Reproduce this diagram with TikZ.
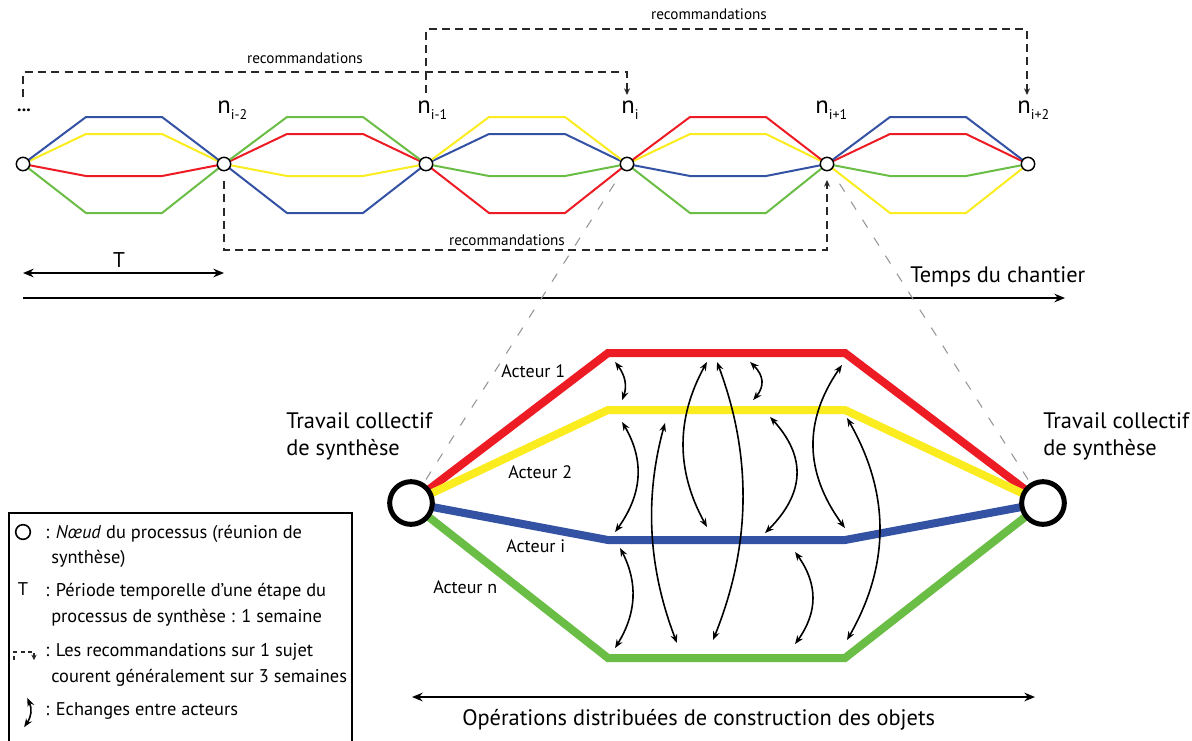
\documentclass[tikz,border=0pt]{standalone}
\usepackage{fontspec}
\setmainfont{PT Sans}
\usetikzlibrary{arrows.meta,bending}
\pgfdeclarelayer{background}
\pgfsetlayers{background,main}
\definecolor{cred}{RGB}{237,28,36}
\definecolor{cyellow}{RGB}{250,236,30}
\definecolor{cblue}{RGB}{52,82,163}
\definecolor{cgreen}{RGB}{106,189,69}
\definecolor{dgray}{RGB}{40,40,40}
\definecolor{lgray}{RGB}{150,150,150}
\newcommand{\nsub}[1]{\raisebox{-5pt}{\fontsize{10.5}{12}\selectfont #1}}
\begin{document}
\begin{tikzpicture}[x=0.75pt,y=-0.75pt,
  sn/.style={circle,draw,fill=white,line width=1.1pt,minimum size=10pt,inner sep=0pt},
  bn/.style={circle,draw,fill=white,line width=3.75pt,minimum size=32pt,inner sep=0pt},
  toppath/.style={line width=1.5pt,line join=miter},
  bigpath/.style={line width=6pt,line join=miter},
  rec/.style={draw=dgray,line width=0.8pt,dash pattern=on 6pt off 4pt},
  rectip/.style={-{Stealth[length=5pt,width=4.5pt]}},
  guide/.style={draw=lgray,line width=0.8pt,dash pattern=on 7pt off 9pt},
  xch/.style={line width=1.2pt,{Stealth[length=6.5pt,width=5pt,bend]}-{Stealth[length=6.5pt,width=5pt,bend]}},
  axis/.style={line width=1.1pt,-{Stealth[length=8pt,width=6.5pt]}},
  axis2/.style={line width=1.1pt,{Stealth[length=8pt,width=6.5pt]}-{Stealth[length=8pt,width=6.5pt]}},
  biglbl/.style={inner sep=0pt,anchor=base west,font=\fontsize{16.8}{19}\selectfont},
  nlbl/.style={inner sep=0pt,anchor=base west,font=\fontsize{18.5}{20}\selectfont},
  rlbl/.style={inner sep=0pt,anchor=base,font=\fontsize{11.4}{13}\selectfont},
  alb/.style={inner sep=0pt,anchor=base west,font=\fontsize{13.5}{16}\selectfont},
  leg/.style={inner sep=0pt,anchor=base west,font=\fontsize{13.8}{16}\selectfont}
]
\useasboundingbox (0,0) rectangle (1192,740);
% ---------- top timeline ----------
\node[sn] (N0) at (23,164) {};
\node[sn] (N1) at (224,164) {};
\node[sn] (N2) at (426,164) {};
\node[sn] (N3) at (627,164) {};
\node[sn] (N4) at (827,164) {};
\node[sn] (N5) at (1028,164) {};
\begin{pgfonlayer}{background}
\foreach \a/\b/\ca/\cb/\cc/\cd in {N0/N1/cblue/cyellow/cred/cgreen,
    N1/N2/cgreen/cred/cyellow/cblue, N2/N3/cyellow/cblue/cgreen/cred,
    N3/N4/cred/cyellow/cblue/cgreen, N4/N5/cblue/cred/cgreen/cyellow}{
  \draw[toppath,\cd] (\a.center) -- ++(63,49) -- ++(76,0) -- (\b.center);
  \draw[toppath,\cc] (\a.center) -- ++(63,12) -- ++(76,0) -- (\b.center);
  \draw[toppath,\cb] (\a.center) -- ++(63,-30) -- ++(76,0) -- (\b.center);
  \draw[toppath,\ca] (\a.center) -- ++(63,-47) -- ++(76,0) -- (\b.center);
}
\end{pgfonlayer}
\node[inner sep=0pt,anchor=base,font=\fontsize{13.5}{16}\selectfont\bfseries] (dots) at (24,111) {...};
\node[nlbl] (l1) at (217,113) {n\nsub{i-2}};
\node[nlbl] (l2) at (417,113) {n\nsub{i-1}};
\node[nlbl] (l3) at (621,113) {n\nsub{i}};
\node[nlbl] (l4) at (815,113) {n\nsub{i+1}};
\node[nlbl] (l5) at (1017,113) {n\nsub{i+2}};
% recommendations
\coordinate (ra) at (23,97);  \coordinate (rb) at (627,95);
\coordinate (rc) at (426,93); \coordinate (rd) at (1027,95);
\coordinate (re) at (224,181); \coordinate (rf) at (827,180);
\draw[rec,rectip] (ra) -- ++(0,-25) -| (rb);
\draw[rec,rectip] (rc) -- ++(0,-64) -| (rd);
\draw[rec,rectip] (re) -- ++(0,69) -| (rf);
\node[rlbl] (rt1) at (305,63) {recommandations};
\node[rlbl] (rt2) at (709,19) {recommandations};
\node[rlbl] (rt3) at (507,245) {recommandations};
% T and time axis
\coordinate (t0) at (23,273); \coordinate (t1) at (224,273);
\draw[axis2] (t0) -- (t1);
\node[inner sep=0pt,anchor=base,font=\fontsize{16}{18}\selectfont] (tl) at (119,267) {T};
\coordinate (a0) at (23,298); \coordinate (a1) at (1065,298);
\draw[axis] (a0) -- (a1);
\node[biglbl] (temps) at (910,282) {Temps du chantier};
% ---------- zoom ----------
\node[bn] (L) at (411,503) {};
\node[bn] (R) at (1043,503) {};
\begin{pgfonlayer}{background}
\draw[bigpath,cred] (L.center) -- (608,353) -- (845,353) -- (R.center);
\draw[bigpath,cyellow] (L.center) -- (608,410) -- (845,410) -- (R.center);
\draw[bigpath,cblue] (L.center) -- (608,540) -- (845,540) -- (R.center);
\draw[bigpath,cgreen] (L.center) -- (608,658) -- (845,658) -- (R.center);
\end{pgfonlayer}
\draw[guide,shorten <=12pt,shorten >=3pt] (N3) -- (L);
\draw[guide,shorten <=12pt,shorten >=3pt] (N4) -- (R);
\node[biglbl] (tc1) at (286,428) {Travail collectif};
\node[biglbl] (tc2) at (286,455) {de synthèse};
\node[biglbl] (tc3) at (1043,428) {Travail collectif};
\node[biglbl] (tc4) at (1043,455) {de synthèse};
\node[alb] (ac1) at (501,377) {Acteur 1};
\node[alb] (ac2) at (508,478) {Acteur 2};
\node[alb] (aci) at (506,552) {Acteur i};
\node[alb] (acn) at (433,593) {Acteur n};
% exchanges
\draw[xch] (615,362) .. controls (626,374.7) and (628.3,387.3) .. (622,400);
\draw[xch] (750,362) .. controls (765,374.7) and (766,387.3) .. (753,400);
\draw[xch] (622,422) .. controls (645.7,458.7) and (643.3,495.3) .. (615,532);
\draw[xch] (665,423) .. controls (643.7,496.3) and (647.7,569.7) .. (677,643);
\draw[xch] (707,362) .. controls (675,417) and (675,472) .. (707,527);
\draw[xch] (717,362) .. controls (753,454.7) and (751.7,547.3) .. (713,640);
\draw[xch] (770,417) .. controls (807.7,455.7) and (806,494.3) .. (765,533);
\draw[xch] (842,365) .. controls (802.3,419.3) and (803.3,473.7) .. (845,528);
\draw[xch] (847,418) .. controls (891,492) and (891,566) .. (847,640);
\draw[xch] (620,548) .. controls (639,581.3) and (637.3,614.7) .. (615,648);
\draw[xch] (795,552) .. controls (819,582.7) and (819,613.3) .. (795,644);
% bottom axis
\coordinate (o0) at (412,697); \coordinate (o1) at (1035,697);
\draw[axis2] (o0) -- (o1);
\node[biglbl] (ops) at (462,725) {Opérations distribuées de construction des objets};
% ---------- legend ----------
\draw[line width=1pt] (9,745) -- (9,513) -- (352,513) -- (352,745);
\node[circle,draw,line width=1.2pt,minimum size=11pt,inner sep=0pt] (lc) at (23,532) {};
\node[inner sep=0pt,anchor=base,font=\fontsize{13.8}{16}\selectfont] (lT) at (23,595) {T};
\draw[draw=dgray,line width=0.8pt,dash pattern=on 3pt off 2.5pt,-{Stealth[length=4pt,width=4pt]}] (14,660) -- (14,652) -| (34,660);
\draw[xch] (27,698) .. controls (33.3,707.7) and (32.3,717.3) .. (24,727);
\node[leg] (g1) at (45,538) {: \textit{Nœud} du processus (réunion de};
\node[leg] (g2) at (51,563) {synthèse)};
\node[leg] (g3) at (45,596) {: Période temporelle d’une étape du};
\node[leg] (g4) at (51,622) {processus de synthèse : 1 semaine};
\node[leg] (g5) at (45,656) {: Les recommandations sur 1 sujet};
\node[leg] (g6) at (51,682) {courent généralement sur 3 semaines};
\node[leg] (g7) at (45,715) {: Echanges entre acteurs};
\end{tikzpicture}
\end{document}
